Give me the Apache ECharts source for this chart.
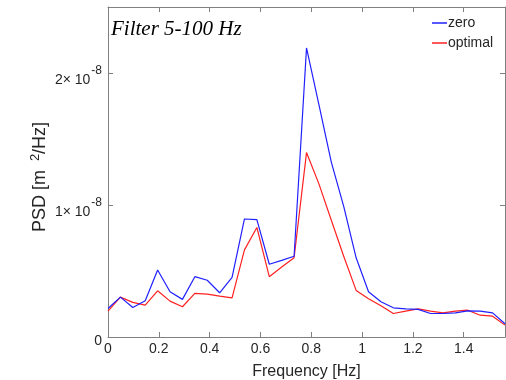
<!DOCTYPE html>
<html>
<head>
<meta charset="utf-8">
<script src="https://cdn.jsdelivr.net/npm/echarts@6/dist/echarts.min.js"></script>
<style>
html,body{margin:0;padding:0;background:#fff;}
#chart{width:506px;height:380px;}
</style>
</head>
<body>
<div id="chart"></div>
<script>
// Frequency bins [Hz]
const freq = [0, 0.0488, 0.0977, 0.1465, 0.1953, 0.2441, 0.2930, 0.3418, 0.3906, 0.4395, 0.4883,
  0.5371, 0.5859, 0.6348, 0.6836, 0.7324, 0.7813, 0.8301, 0.8789, 0.9277, 0.9766, 1.0254,
  1.0742, 1.1230, 1.1719, 1.2207, 1.2695, 1.3184, 1.3672, 1.4160, 1.4648, 1.5137, 1.5625];
// PSD values in units of 1e-8 m^2/Hz
const zeroPSD = [0.216, 0.302, 0.224, 0.274, 0.508, 0.343, 0.285, 0.457, 0.430, 0.335, 0.452,
  0.894, 0.889, 0.551, 0.580, 0.612, 2.190, 1.760, 1.325, 0.990, 0.600, 0.343,
  0.267, 0.221, 0.213, 0.209, 0.178, 0.178, 0.183, 0.198, 0.196, 0.183, 0.100];
const optimalPSD = [0.196, 0.302, 0.262, 0.241, 0.350, 0.272, 0.229, 0.330, 0.325, 0.310, 0.297,
  0.660, 0.830, 0.457, 0.530, 0.600, 1.397, 1.160, 0.884, 0.612, 0.353, 0.290,
  0.236, 0.178, 0.196, 0.213, 0.196, 0.183, 0.196, 0.203, 0.165, 0.158, 0.090];
const seriesNames = ['zero', 'optimal'];
const xTickLabels = ['0', '0.2', '0.4', '0.6', '0.8', '1', '1.2', '1.4'];
const yTickLabels = {0: '{z|0}', 1: '{a|1× 10}{b|-8}', 2: '{a|2× 10}{b|-8}'};

const pair = (xs, ys) => xs.map((x, i) => [x, ys[i]]);
const axisColor = '#808080';
const textColor = '#262626';
const font = 'Liberation Sans';
const blue = '#2020ff';
const red = '#ff2020';

const frameAxis = {
  axisLine: {show: true, onZero: false, lineStyle: {color: axisColor, width: 1}},
  axisTick: {show: true, inside: true, length: 5, lineStyle: {color: axisColor}},
  splitLine: {show: false}
};

const chart = echarts.init(document.getElementById('chart'), null, {renderer: 'canvas'});
chart.setOption({
  animation: false,
  backgroundColor: '#fff',
  title: {
    text: 'Filter 5-100 Hz',
    left: 106, top: 14,
    textStyle: {fontFamily: 'Liberation Serif', fontStyle: 'italic', fontWeight: 'normal', fontSize: 21, color: '#000'}
  },
  legend: {
    data: seriesNames.map(n => ({name: n, icon: 'rect'})),
    orient: 'vertical',
    left: 427, top: 11,
    itemWidth: 15, itemHeight: 1.5, itemGap: 6,
    textStyle: {fontFamily: font, fontSize: 14, color: textColor, lineHeight: 14, padding: [0,0,0,-4]}
  },
  grid: {left: 108, right: 1, top: 7, bottom: 43, containLabel: false, outerBoundsMode: 'none'},
  xAxis: [Object.assign({
    type: 'value', min: 0, max: 1.5625, interval: 0.2, position: 'bottom',
    axisLabel: {
      color: textColor, fontFamily: font, fontSize: 14, margin: 5,
      formatter: v => { const i = Math.round(v / 0.2); return Math.abs(v - i * 0.2) < 1e-6 && xTickLabels[i] !== undefined ? xTickLabels[i] : ''; }
    },
    name: 'Frequency [Hz]', nameLocation: 'middle', nameGap: 27, nameMoveOverlap: false,
    nameTextStyle: {fontFamily: font, fontSize: 16, color: textColor}
  }, frameAxis), Object.assign({
    type: 'value', min: 0, max: 1.5625, interval: 0.2, position: 'top',
    axisLabel: {show: false}
  }, frameAxis)],
  yAxis: [Object.assign({
    type: 'value', min: 0, max: 2.5, interval: 1, position: 'left',
    axisLabel: {
      color: textColor, fontFamily: font, fontSize: 14, margin: 6,
      formatter: v => yTickLabels[v] !== undefined ? yTickLabels[v] : '',
      rich: {
        z: {fontFamily: font, fontSize: 14, color: textColor, padding: [8, 0, 0, 0]},
        a: {fontFamily: font, fontSize: 14, color: textColor, padding: [14, 0, 0, 0]},
        b: {fontFamily: font, fontSize: 12, color: textColor, padding: [0, 0, 5, 1]}
      }
    },
    name: '{a|PSD [m }{b|2}{c|/Hz]}', nameLocation: 'middle', nameGap: 56, nameRotate: 90,
    nameMoveOverlap: false,
    nameTextStyle: {
      rich: {
        a: {fontFamily: font, fontSize: 18, color: textColor},
        b: {fontFamily: font, fontSize: 13, color: textColor, padding: [0, 0, 10, 4]},
        c: {fontFamily: font, fontSize: 18, color: textColor, padding: [0, 10, 0, 0]}
      }
    }
  }, frameAxis), Object.assign({
    type: 'value', min: 0, max: 2.5, interval: 1, position: 'right',
    axisLabel: {show: false}
  }, frameAxis)],
  series: [{
    name: seriesNames[0], type: 'line', xAxisIndex: 0, yAxisIndex: 0,
    data: pair(freq, zeroPSD), symbol: 'none', showSymbol: false,
    lineStyle: {color: blue, width: 1.2}, itemStyle: {color: blue}, z: 3
  }, {
    name: seriesNames[1], type: 'line', xAxisIndex: 0, yAxisIndex: 0,
    data: pair(freq, optimalPSD), symbol: 'none', showSymbol: false,
    lineStyle: {color: red, width: 1.2}, itemStyle: {color: red}, z: 2
  }]
});
</script>
</body>
</html>
